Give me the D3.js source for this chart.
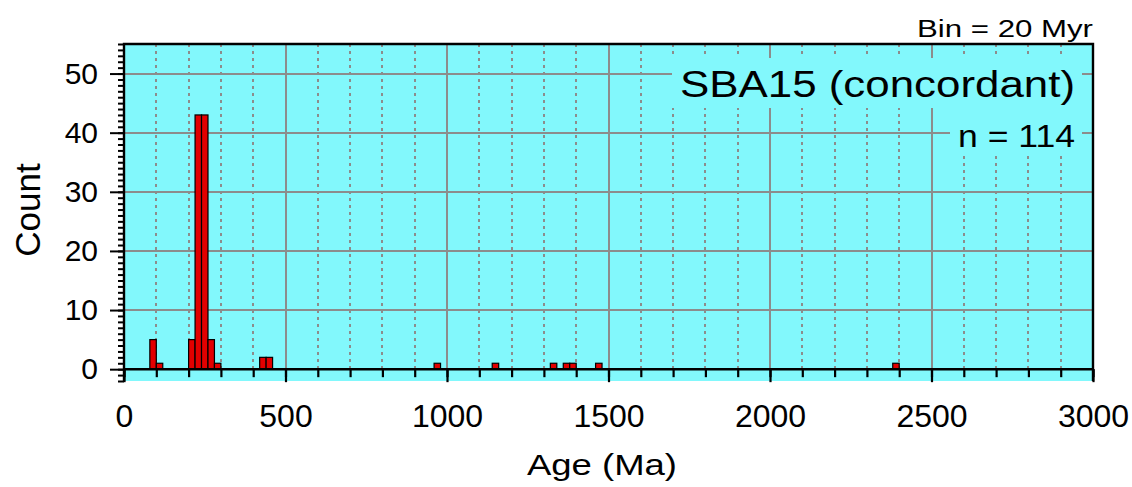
<!DOCTYPE html>
<html>
<head>
<meta charset="utf-8">
<script src="https://cdn.jsdelivr.net/npm/d3@7/dist/d3.min.js"></script>
<style>
  html, body { margin: 0; padding: 0; background: #ffffff; }
  svg { display: block; font-family: "Liberation Sans", Arial, sans-serif; }
</style>
</head>
<body>
<svg id="chart" width="1132" height="487"></svg>
<script>
// ---- data ----
const binStarts = [80, 100, 200, 220, 240, 260, 280, 420, 440, 960, 1140, 1320, 1360, 1380, 1460, 2380];
const counts    = [5,  1,   5,   43,  43,  5,   1,   2,   2,   1,   1,    1,    1,    1,    1,    1];
const binWidth = 20;
const xTicks = [0, 500, 1000, 1500, 2000, 2500, 3000];
const xMinorTicks = d3.range(0, 3001, 100);
const yTicks = [0, 10, 20, 30, 40, 50];
const yMinorTicks = d3.range(-2, 56, 1);
const titleText = "SBA15 (concordant)";
const nText = "n = 114";
const binText = "Bin = 20 Myr";
const xLabel = "Age (Ma)";
const yLabel = "Count";

// ---- layout ----
const svg = d3.select("#chart");
const X0 = 124, X1 = 1093, Y0 = 44, Y1 = 381;
const x = d3.scaleLinear().domain([0, 3000]).range([X0, X1]);
const y = d3.scaleLinear().domain([-2, 55]).range([Y1, Y0]);
const cyan = "#82f8fc";
const grid = "#8c8c8c";

// background
svg.append("rect").attr("x", X0).attr("y", Y0).attr("width", X1 - X0).attr("height", Y1 - Y0).attr("fill", cyan);

// horizontal gridlines
svg.append("g").attr("shape-rendering", "crispEdges").selectAll("line").data(yTicks.filter(d => d > 0)).join("line")
  .attr("x1", X0).attr("x2", X1).attr("y1", d => Math.round(y(d))).attr("y2", d => Math.round(y(d)))
  .attr("stroke", grid).attr("stroke-width", 2);

// vertical gridlines
svg.append("g").attr("shape-rendering", "crispEdges").selectAll("line").data(xMinorTicks.filter(d => d > 0 && d < 3000)).join("line")
  .attr("x1", d => Math.round(x(d))).attr("x2", d => Math.round(x(d))).attr("y1", Y0).attr("y2", y(0))
  .attr("stroke", grid).attr("stroke-width", 2)
  .attr("stroke-dasharray", d => d % 500 === 0 ? null : "3,4");

// text boxes covering grid
svg.append("rect").attr("x", 672).attr("y", 58).attr("width", 410).attr("height", 50).attr("fill", cyan);
svg.append("rect").attr("x", 950).attr("y", 108).attr("width", 132).attr("height", 44).attr("fill", cyan);

// bars
svg.append("g").selectAll("rect").data(binStarts.map((b, i) => ({b, c: counts[i]}))).join("rect")
  .attr("x", d => x(d.b))
  .attr("width", d => x(d.b + binWidth) - x(d.b))
  .attr("y", d => y(d.c))
  .attr("height", d => y(0) - y(d.c))
  .attr("fill", "#e20000").attr("stroke", "#000").attr("stroke-width", 1.2);

// x axis (ticks below zero line)
const xAxisMinor = d3.axisBottom(x).tickValues(xMinorTicks).tickSize(8).tickFormat("");
const xAxisMajor = d3.axisBottom(x).tickValues(xTicks).tickSize(13).tickPadding(22).tickFormat(d3.format("d"));
const gxm = svg.append("g").attr("transform", `translate(0,${y(0)})`).call(xAxisMinor);
const gx = svg.append("g").attr("transform", `translate(0,${y(0)})`).call(xAxisMajor);
[gxm, gx].forEach(g => {
  g.select(".domain").remove();
  g.selectAll("line").attr("stroke", "#000").attr("stroke-width", 2.2);
});
gx.selectAll("text").attr("font-size", 32).attr("fill", "#000")
  .attr("font-family", "'Liberation Sans', Arial, sans-serif");

// zero line
svg.append("line").attr("x1", X0).attr("x2", X1).attr("y1", y(0)).attr("y2", y(0))
  .attr("stroke", "#000").attr("stroke-width", 2.5);

// y axis
const yAxisMinor = d3.axisLeft(y).tickValues(yMinorTicks).tickSize(6).tickFormat("");
const yAxisMajor = d3.axisLeft(y).tickValues(yTicks).tickSize(14).tickPadding(12);
const gym = svg.append("g").attr("transform", `translate(${X0},0)`).call(yAxisMinor);
const gy = svg.append("g").attr("transform", `translate(${X0},0)`).call(yAxisMajor);
[gym, gy].forEach(g => {
  g.select(".domain").remove();
  g.selectAll("line").attr("stroke", "#000").attr("stroke-width", 2);
});
gy.selectAll("text").attr("font-size", 30).attr("fill", "#000")
  .attr("font-family", "'Liberation Sans', Arial, sans-serif");

// frame: top, left, right
svg.append("path")
  .attr("d", `M${X0},${Y1} L${X0},${Y0} L${X1},${Y0} L${X1},${Y1}`)
  .attr("fill", "none").attr("stroke", "#000").attr("stroke-width", 2.4);

// texts
svg.append("text").attr("x", 680).attr("y", 97).attr("font-size", 37)
  .attr("textLength", 395).attr("lengthAdjust", "spacingAndGlyphs").text(titleText);
svg.append("text").attr("x", 958).attr("y", 147).attr("font-size", 31)
  .attr("textLength", 117).attr("lengthAdjust", "spacingAndGlyphs").text(nText);
svg.append("text").attr("x", 1093).attr("y", 37).attr("font-size", 23).attr("text-anchor", "end")
  .attr("textLength", 176).attr("lengthAdjust", "spacingAndGlyphs").text(binText);
svg.append("text").attr("x", 602).attr("y", 475).attr("font-size", 29).attr("text-anchor", "middle")
  .attr("textLength", 150).attr("lengthAdjust", "spacingAndGlyphs").text(xLabel);
svg.append("text").attr("transform", "translate(40,210) rotate(-90)").attr("font-size", 35)
  .attr("text-anchor", "middle").text(yLabel);
</script>
</body>
</html>
